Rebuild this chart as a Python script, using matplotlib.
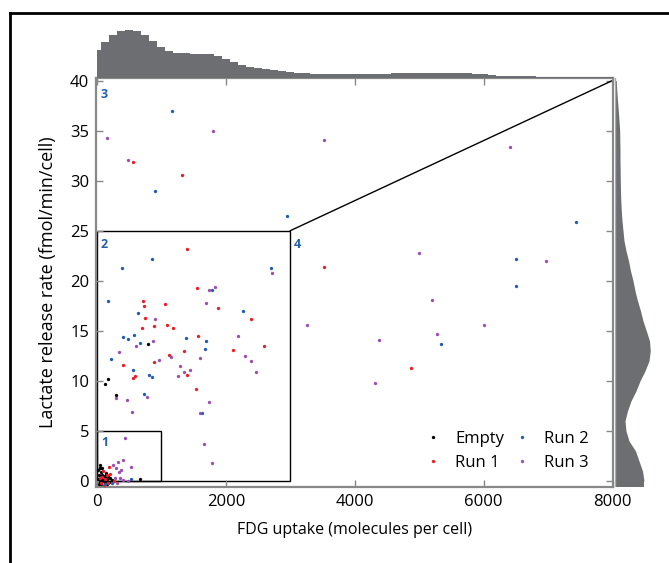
import matplotlib
matplotlib.use("Agg")
import matplotlib.pyplot as plt
from matplotlib.lines import Line2D
from matplotlib.patches import Rectangle

plt.rcParams['font.family'] = ['Open Sans', 'DejaVu Sans']

# scatter data (FDG uptake, lactate release)
empty_x = [15, 30, 45, 55, 65, 80, 95, 110, 125, 140, 160, 175, 190, 20, 40, 50, 70, 85,
           100, 130, 150, 200, 230, 25, 60, 52, 47, 135, 670, 787, 166, 119, 290]
empty_y = [0.2, 0.6, -0.1, 0.9, 0.3, 1.3, 0.1, 0.5, -0.2, 0.8, 0.2, 0.5, -0.1, 1.1, 0.2, 1.3, -0.3, 0.6,
           0.0, 0.4, -0.3, 0.3, 0.1, -0.3, 0.0, 1.6, 1.3, 0.6, 0.2, 13.7, 10.2, 9.7, 8.6]

run1_x = [98, 186, 269, 60, 120, 150, 80, 210, 40, 170, 110,
          560, 1320, 3525, 4875, 1393, 1558, 719, 730, 1051, 1874, 741, 2387, 694, 885,
          1092, 1175, 1563, 2598, 2117, 1351, 1113, 880, 399, 585, 554, 1393, 1538]
run1_y = [1.0, 1.4, 0.0, -0.2, 0.2, 0.6, 0.4, 0.7, 0.3, -0.2, -0.4,
          31.9, 30.6, 21.4, 11.3, 23.2, 19.3, 18.0, 17.5, 17.7, 17.3, 16.3, 16.2, 15.3, 15.5,
          15.6, 15.3, 14.5, 13.5, 13.1, 13.0, 12.6, 11.9, 11.6, 10.5, 10.3, 10.6, 9.2]

run2_x = [533, 238, 130,
          1165, 900, 2950, 7440, 6510, 6510, 5340, 859, 383, 2697, 1781, 176, 2262, 632,
          399, 481, 580, 1382, 673, 1688, 1677, 222, 559, 812, 854, 730, 1630]
run2_y = [0.15, -0.2, -0.3,
          37.0, 29.0, 26.5, 25.9, 22.2, 19.5, 13.7, 22.2, 21.3, 21.3, 19.05, 18.0, 17.0, 16.8,
          14.4, 14.2, 14.6, 14.3, 13.8, 14.0, 13.2, 12.2, 11.1, 10.6, 10.4, 8.7, 6.75]

run3_x = [248, 326, 409, 300, 378, 347, 533, 487, 399, 352, 316, 280, 430, 1657, 1781,
          155, 1800, 3525, 6415, 480, 5000, 6970, 5200, 6010, 3260, 5280, 4380, 4320,
          2723, 1744, 1837, 1697, 900, 2195, 611, 870, 347, 1154, 1600, 2303, 2392, 963,
          1284, 1439, 1356, 1263, 2474, 295, 781, 466, 1744, 538, 1595]
run3_y = [1.6, 1.9, 2.1, 1.3, 1.1, 0.9, 1.4, 0.0, 0.05, 0.3, -0.2, 0.25, 4.3, 3.7, 1.8,
          34.3, 35.0, 34.1, 33.4, 32.1, 22.8, 22.0, 18.1, 15.6, 15.6, 14.7, 14.1, 9.8,
          20.8, 19.1, 19.35, 17.8, 16.2, 14.5, 13.5, 14.0, 12.9, 12.4, 12.3, 12.5, 12.0, 12.1,
          11.5, 11.1, 10.9, 10.5, 10.9, 8.3, 8.4, 8.1, 7.9, 6.9, 6.8]

# marginal profiles (top: every 125 units of FDG)
top_h = [28, 36, 43, 46.5, 48, 47, 43, 37, 31, 27, 25, 24.3, 24, 24, 24, 22,
         19, 15.5, 12.5, 10.5, 9.5, 8.5, 7.3, 6.3, 5.5, 5, 4.7, 4, 3.5, 3.3, 3.3, 3.3,
         3.3, 3.3, 3.3, 3.3, 3.5, 4.3, 4.7, 4.7, 4.7, 4.7, 4.7, 4.7, 4.7, 4.5, 4.3, 3.6,
         3.3, 2.5, 1.8, 1.4, 1.3, 1.3, 1.2, 0.6, 0.4, 0.3, 0.3, 0.3, 0.3, 0.3, 0.3, 0.3, 0.3]
top_x = [125 * i for i in range(len(top_h))]
side_y = list(range(0, 41))
side_w = [29, 27.5, 24, 20.5, 14, 11, 10, 12.5, 16, 21, 25, 30, 34, 35.3, 34.5, 31.3, 28,
          25.5, 22.5, 20, 18, 15.5, 13.5, 11, 9, 8, 7, 6.3, 5.8, 5.5, 5.3, 5.2, 5, 5, 4.8,
          4.7, 4, 3.3, 2.5, 1.8, 1.3]

series = [("Empty", empty_x, empty_y, "black"),
          ("Run 1", run1_x, run1_y, "#ec1c24"),
          ("Run 2", run2_x, run2_y, "#1f5cb4"),
          ("Run 3", run3_x, run3_y, "#9b4fb0")]

W, H = 669, 563
fig = plt.figure(figsize=(W / 100, H / 100), dpi=100)

def box(l, t, r, b):
    return [l / W, 1 - b / H, (r - l) / W, (b - t) / H]

ax = fig.add_axes(box(96, 78, 612.5, 487))
ax.set_xlim(-15, 8000)
ax.set_ylim(-0.6, 40.25)

for name, xs, ys, c in series:
    ax.plot(xs, ys, 'o', ms=2.4, color=c, mec='none', label=name, zorder=3)

# region boxes
ax.add_patch(Rectangle((0, 0), 1000, 5, fill=False, ec='black', lw=1))
ax.add_patch(Rectangle((0, 0), 3000, 25, fill=False, ec='black', lw=1))
ax.plot([3000, 8000], [25, 40], color='black', lw=1)
lab_c = '#2360b0'
for txt, x, y in [("1", 60, 3.8), ("2", 60, 23.6), ("3", 60, 38.6), ("4", 3060, 23.6)]:
    ax.text(x, y, txt, color=lab_c, fontsize=9, fontweight='bold', ha='left', va='center')

ax.set_xticks([0, 2000, 4000, 6000, 8000])
ax.set_yticks(range(0, 41, 5))
ax.tick_params(direction='in', length=5, width=1, color='#888888', top=True, right=True,
               labelsize=12, pad=5)
for s in ax.spines.values():
    s.set_color('#888888')
    s.set_linewidth(1.6)
ax.set_xlabel("FDG uptake (molecules per cell)", fontsize=11.5, labelpad=9)
ax.set_ylabel("Lactate release rate (fmol/min/cell)", fontsize=13, labelpad=9)

ax.legend(ncol=2, loc='lower right', bbox_to_anchor=(0.97, 0.018), frameon=False,
          fontsize=12, handlelength=0.8, handletextpad=0.9, columnspacing=0.7,
          labelspacing=0.5, markerscale=1.0, borderpad=0)

# top marginal
axt = fig.add_axes(box(96, 22, 612.5, 77.5))
axt.fill_between(top_x, 0, top_h, step='mid', color='#6d6e71', lw=0)
axt.set_xlim(-15, 8000)
axt.set_ylim(0, 55.5)
axt.axis('off')

# side marginal
axr = fig.add_axes(box(615, 78, 665, 487))
axr.fill_betweenx(side_y, 0, side_w, color='#6d6e71', lw=0)
axr.fill_betweenx([-0.6, 0], 0, [side_w[0], side_w[0]], color='#6d6e71', lw=0)
axr.set_ylim(-0.6, 40.25)
axr.set_xlim(0, 50)
axr.axis('off')
axr.plot([0, 0], [-0.6, 40.25], color='#aaaaaa', lw=1)

# outer frame
fig.add_artist(Line2D([9.5 / W, 9.5 / W], [0, 1 - 12.5 / H], color='black', lw=2))
fig.add_artist(Line2D([9.5 / W, 1], [1 - 12.5 / H, 1 - 12.5 / H], color='black', lw=2))

fig.savefig("out.png", dpi=100)
